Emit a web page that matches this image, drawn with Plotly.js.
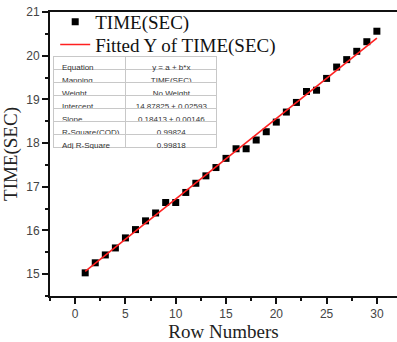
<!DOCTYPE html>
<html>
<head>
<meta charset="utf-8">
<script src="https://cdn.plot.ly/plotly-3.0.1.min.js"></script>
<style>html,body{margin:0;padding:0;background:#fff;}#chart{width:397px;height:342px;}</style>
</head>
<body>
<div id="chart"></div>
<script>
const rows = [1,2,3,4,5,6,7,8,9,10,11,12,13,14,15,16,17,18,19,20,21,22,23,24,25,26,27,28,29,30];
const timeSec = [15.03,15.26,15.44,15.60,15.83,16.02,16.22,16.40,16.64,16.64,16.87,17.08,17.25,17.44,17.65,17.87,17.87,18.07,18.26,18.48,18.71,18.93,19.18,19.21,19.48,19.74,19.91,20.10,20.32,20.56];
const intercept = 14.87825;
const slope = 0.18413;
const fitX = [1, 30];
const fitY = fitX.map(x => intercept + slope * x);
const tableLabels = ["Equation","Mapping","Weight","Intercept","Slope","R-Square(COD)","Adj R-Square"];
const tableValues = ["y = a + b*x","TIME(SEC)","No Weight","14.87825 ± 0.02593","0.18413 ± 0.00146","0.99824","0.99818"];
const xTicks = [0,5,10,15,20,25,30];
const yTicks = [15,16,17,18,19,20,21];

const serif = "Liberation Serif, Times New Roman, serif";
const sans = "Liberation Sans, Arial, sans-serif";

const traces = [
  {
    type: 'scatter', mode: 'markers', x: rows, y: timeSec, name: 'TIME(SEC)',
    marker: {symbol: 'square', size: 7, color: '#000'}, legend: 'legend'
  },
  {
    type: 'scatter', mode: 'lines', x: fitX, y: fitY, name: 'Fitted Y of TIME(SEC)',
    line: {color: '#ff2020', width: 1.6}, legend: 'legend2'
  },
  {
    type: 'table',
    domain: {x: [0.0115, 0.484], y: [0.515, 0.845]},
    columnwidth: [72, 92],
    header: {
      values: [[tableLabels[0]], [tableValues[0]]],
      align: ['left', 'center'], height: 13,
      fill: {color: '#fff'}, line: {color: '#c8c8c8', width: 1},
      font: {family: sans, size: 8, color: '#333'}
    },
    cells: {
      values: [tableLabels.slice(1), tableValues.slice(1)],
      align: ['left', 'center'], height: 13,
      fill: {color: '#fff'}, line: {color: '#c8c8c8', width: 1},
      font: {family: sans, size: 8, color: '#333'}
    }
  }
];

const legendCommon = {
  xanchor: 'left', yanchor: 'middle',
  bgcolor: 'rgba(0,0,0,0)', font: {family: serif, size: 19, color: '#111'}
};

const layout = {
  width: 397, height: 342,
  margin: {l: 50, r: 0, t: 12, b: 46},
  paper_bgcolor: '#fff', plot_bgcolor: '#fff',
  showlegend: true,
  legend: Object.assign({x: 0.015, y: 0.965}, legendCommon),
  legend2: Object.assign({x: 0.015, y: 0.885}, legendCommon),
  xaxis: {
    range: [-2.5, 32], tickvals: xTicks, ticktext: xTicks.map(String),
    showgrid: false, zeroline: false,
    showline: true, linecolor: '#111', linewidth: 2, mirror: true,
    ticks: 'outside', ticklen: 6, tickwidth: 2, tickcolor: '#111',
    minor: {dtick: 2.5, tick0: 0, ticks: 'outside', ticklen: 3, tickwidth: 2, tickcolor: '#111', showgrid: false},
    tickfont: {family: sans, size: 12, color: '#444'},
    title: {text: 'Row Numbers', font: {family: serif, size: 19, color: '#222'}, standoff: 6}
  },
  yaxis: {
    range: [14.5, 21], tickvals: yTicks, ticktext: yTicks.map(String),
    showgrid: false, zeroline: false,
    showline: true, linecolor: '#111', linewidth: 2,
    ticks: 'outside', ticklen: 6, tickwidth: 2, tickcolor: '#111',
    minor: {dtick: 0.5, tick0: 0, ticks: 'outside', ticklen: 3, tickwidth: 2, tickcolor: '#111', showgrid: false},
    tickfont: {family: sans, size: 12, color: '#444'},
    title: {text: 'TIME(SEC)', font: {family: serif, size: 19, color: '#222'}, standoff: 4}
  }
};

Plotly.newPlot('chart', traces, layout, {displayModeBar: false, staticPlot: true});
</script>
</body>
</html>
